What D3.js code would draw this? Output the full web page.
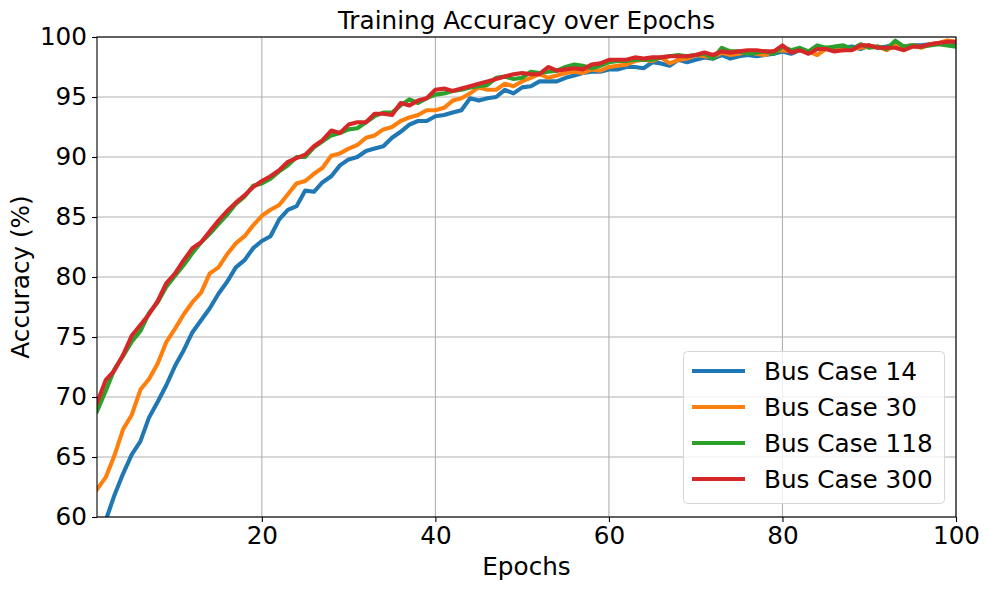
<!DOCTYPE html>
<html><head><meta charset="utf-8">
<script src="https://cdn.jsdelivr.net/npm/d3@7"></script>
<style>body{margin:0;background:#fff}svg{font-family:"DejaVu Sans",sans-serif}</style>
</head><body>
<script>
const epochs = d3.range(1, 101);
const bus14 = [57.5,59.7,61.8,63.6,65.2,66.3,68.3,69.6,71.0,72.6,73.9,75.4,76.4,77.4,78.6,79.6,80.8,81.4,82.4,83.0,83.4,84.8,85.6,85.9,87.2,87.1,87.9,88.4,89.3,89.8,90.0,90.5,90.7,90.9,91.6,92.1,92.7,93.0,93.0,93.4,93.5,93.7,93.9,94.9,94.7,94.9,95.0,95.6,95.3,95.8,95.9,96.3,96.3,96.3,96.6,96.8,97.0,97.1,97.1,97.3,97.3,97.5,97.5,97.4,97.9,97.8,97.6,98.1,97.9,98.1,98.3,98.2,98.5,98.2,98.4,98.5,98.4,98.5,98.6,98.8,98.6,98.9,98.8,99.0,99.1,99.0,99.1,99.2,99.0,99.3,99.1,99.2,99.4,99.2,99.3,99.3,99.4,99.5,99.5,99.5];
const bus30 = [62.3,63.3,65.1,67.3,68.5,70.6,71.5,72.8,74.6,75.7,76.9,77.9,78.7,80.3,80.8,81.9,82.8,83.4,84.3,85.1,85.6,86.0,86.9,87.8,88.0,88.6,89.1,90.1,90.3,90.7,91.0,91.6,91.8,92.3,92.5,93.0,93.3,93.5,93.9,93.9,94.1,94.7,94.9,95.3,95.8,95.6,95.6,96.1,95.9,96.3,96.6,96.9,96.6,96.8,97.0,97.1,97.0,97.3,97.2,97.5,97.6,97.7,98.0,98.1,98.0,98.3,97.8,98.1,98.2,98.5,98.4,98.3,98.7,98.5,98.6,98.8,98.6,98.5,98.8,98.9,98.8,99.0,98.8,98.5,99.0,99.1,98.9,99.0,99.1,99.2,99.2,98.9,99.3,99.2,99.3,99.1,99.4,99.5,99.7,99.6];
const bus118 = [68.8,70.5,72.3,73.4,74.6,75.5,77.0,77.9,79.2,80.1,81.0,82.0,82.9,83.6,84.4,85.2,86.1,86.7,87.6,87.8,88.2,88.8,89.3,90.0,90.0,90.8,91.3,91.8,92.0,92.3,92.4,92.9,93.4,93.7,93.7,94.3,94.8,94.5,94.9,95.2,95.3,95.5,95.6,95.8,95.9,96.0,96.6,96.7,96.5,96.6,97.1,97.0,97.1,97.2,97.5,97.7,97.6,97.4,97.6,97.9,98.0,98.0,98.1,98.1,98.1,98.3,98.4,98.5,98.4,98.5,98.6,98.2,99.1,98.8,98.8,98.6,98.7,98.8,98.6,99.2,98.9,99.1,98.8,99.3,99.1,99.2,99.3,99.0,99.4,99.1,99.2,99.0,99.7,99.2,99.3,99.2,99.3,99.4,99.3,99.2];
const bus300 = [69.5,71.4,72.2,73.5,75.1,76.0,76.9,78.0,79.5,80.3,81.4,82.4,82.9,83.8,84.7,85.5,86.2,86.8,87.5,88.0,88.4,88.9,89.6,89.9,90.2,90.9,91.4,92.2,92.0,92.7,92.9,92.9,93.6,93.6,93.5,94.5,94.3,94.7,94.9,95.6,95.7,95.5,95.7,95.9,96.1,96.3,96.5,96.7,96.9,97.0,96.9,96.9,97.5,97.2,97.3,97.4,97.3,97.7,97.8,98.1,98.1,98.1,98.3,98.2,98.3,98.3,98.4,98.4,98.4,98.5,98.7,98.5,98.8,98.7,98.8,98.9,98.9,98.8,98.8,99.3,98.7,98.9,98.6,99.0,99.0,98.8,98.9,98.9,99.3,99.3,99.1,99.1,99.1,98.9,99.2,99.2,99.4,99.5,99.6,99.6];
const seriesNames = ["Bus Case 14","Bus Case 30","Bus Case 118","Bus Case 300"];
const seriesValues = [bus14, bus30, bus118, bus300];
const colors = ["#1f77b4","#ff7f0e","#2ca02c","#d62728"];
const xTicks = [20,40,60,80,100];
const yTicks = [60,65,70,75,80,85,90,95,100];

const W = 989, H = 590, FS = 24.7;
const m = {l:97, r:956, t:37, b:517};
const svg = d3.select("body").append("svg").attr("width",W).attr("height",H);
const x = d3.scaleLinear().domain([1,100]).range([m.l,m.r]);
const y = d3.scaleLinear().domain([60,100]).range([m.b,m.t]);

// grid
const g = svg.append("g");
g.selectAll(".gx").data(xTicks).join("line")
  .attr("x1",d=>x(d)).attr("x2",d=>x(d)).attr("y1",m.t).attr("y2",m.b)
  .attr("stroke","#b0b0b0").attr("stroke-width",1.1);
g.selectAll(".gy").data(yTicks).join("line")
  .attr("y1",d=>y(d)).attr("y2",d=>y(d)).attr("x1",m.l).attr("x2",m.r)
  .attr("stroke","#b0b0b0").attr("stroke-width",1.1);

svg.append("clipPath").attr("id","clip").append("rect")
  .attr("x",m.l).attr("y",m.t).attr("width",m.r-m.l).attr("height",m.b-m.t);

const line = d3.line().x((d,i)=>x(epochs[i])).y(d=>y(d));
svg.append("g").attr("clip-path","url(#clip)")
  .selectAll("path").data(seriesValues).join("path")
  .attr("d",d=>line(d)).attr("fill","none")
  .attr("stroke",(d,i)=>colors[i]).attr("stroke-width",4.1)
  .attr("stroke-linejoin","round").attr("stroke-linecap","square");

// axes
const xAxis = svg.append("g").attr("transform",`translate(0,${m.b})`)
  .call(d3.axisBottom(x).tickValues(xTicks).tickSize(5).tickPadding(4));
const yAxis = svg.append("g").attr("transform",`translate(${m.l},0)`)
  .call(d3.axisLeft(y).tickValues(yTicks).tickSize(5).tickPadding(5));
[xAxis,yAxis].forEach(a=>{
  a.select(".domain").remove();
  a.selectAll("text").attr("font-size",FS).attr("fill","#000").attr("font-family","DejaVu Sans");
  a.selectAll("line").attr("stroke","#000").attr("stroke-width",1.1);
});
svg.append("rect").attr("x",m.l).attr("y",m.t).attr("width",m.r-m.l).attr("height",m.b-m.t)
  .attr("fill","none").attr("stroke","#000").attr("stroke-width",1.1);

svg.append("text").attr("x",(m.l+m.r)/2).attr("y",29).attr("text-anchor","middle")
  .attr("font-size",FS).text("Training Accuracy over Epochs");
svg.append("text").attr("x",(m.l+m.r)/2).attr("y",575).attr("text-anchor","middle")
  .attr("font-size",FS).text("Epochs");
svg.append("text").attr("transform",`translate(29,${(m.t+m.b)/2}) rotate(-90)`).attr("text-anchor","middle")
  .attr("font-size",FS).text("Accuracy (%)");

// legend
const lg = svg.append("g");
lg.append("rect").attr("x",683.5).attr("y",351.5).attr("width",261).attr("height",152).attr("rx",4)
  .attr("fill","#fff").attr("fill-opacity",0.8).attr("stroke","#d6d6d6").attr("stroke-width",1);
seriesNames.forEach((n,i)=>{
  const yy = 371 + i*36;
  lg.append("line").attr("x1",692).attr("x2",745).attr("y1",yy).attr("y2",yy)
    .attr("stroke",colors[i]).attr("stroke-width",4.1);
  lg.append("text").attr("x",764).attr("y",yy+9).attr("font-size",FS).text(n);
});
</script>
</body></html>
